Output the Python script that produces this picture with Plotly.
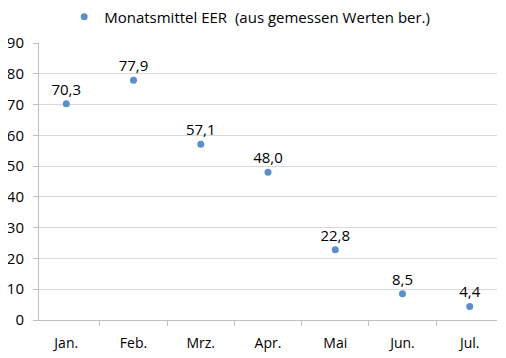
import plotly.graph_objects as go

months = ["Jan.", "Feb.", "Mrz.", "Apr.", "Mai", "Jun.", "Jul."]
eer_values = [70.3, 77.9, 57.1, 48.0, 22.8, 8.5, 4.4]
series_name = "Monatsmittel EER  (aus gemessen Werten ber.)"

FONT = "Open Sans, Liberation Sans, sans-serif"

fig = go.Figure()
fig.add_trace(go.Scatter(
    x=months, y=eer_values, mode="markers+text", name=series_name,
    marker=dict(color="#5B8FC9", size=7),
    texttemplate="%{y:.1f}", textposition="top center",
    textfont=dict(size=15, color="#000000", family=FONT),
    showlegend=True,
))

# page body has a default 8px margin, so the figure is sized to fit the window
fig.update_layout(
    width=498, height=350,
    margin=dict(l=31, r=9, t=35, b=38, autoexpand=False),
    paper_bgcolor="white", plot_bgcolor="white",
    separators=",.",
    font=dict(family=FONT, size=15, color="#000000"),
    showlegend=True,
    legend=dict(orientation="h", x=0.46, xanchor="center", y=1.094, yanchor="middle",
                yref="paper", font=dict(size=15), itemwidth=30),
    xaxis=dict(type="category", tickson="boundaries", ticks="outside", ticklen=5,
               tickcolor="#BFBFBF", showline=True, linecolor="#BFBFBF", linewidth=1,
               showgrid=False, tickfont=dict(size=14), ticklabelstandoff=10),
    yaxis=dict(range=[0, 90], dtick=10, ticks="outside", ticklen=5, tickcolor="#BFBFBF",
               showline=True, linecolor="#BFBFBF", linewidth=1,
               showgrid=True, gridcolor="#D9D9D9", zeroline=False,
               tickfont=dict(size=15), ticklabelstandoff=6),
)

fig.write_html("out.html")
